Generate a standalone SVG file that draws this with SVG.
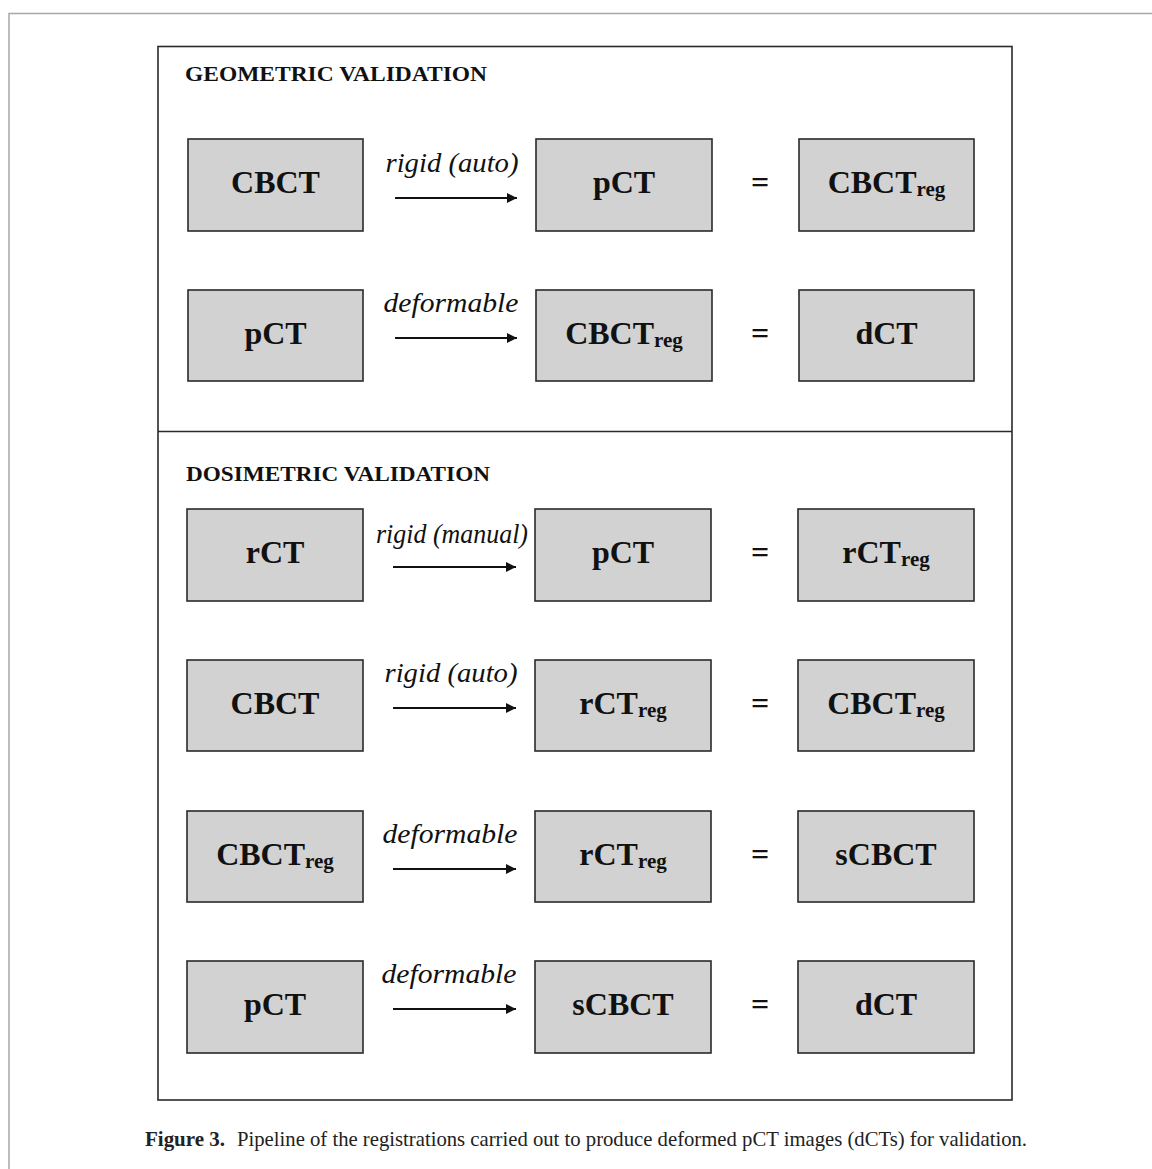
<svg xmlns="http://www.w3.org/2000/svg" width="1152" height="1169" viewBox="0 0 1152 1169">
<defs>
<style>
.box{fill:#d2d2d2;stroke:#2a2a2a;stroke-width:1.6}
.bt{font-family:"Liberation Serif","Times New Roman",serif;font-weight:bold;font-size:32px;fill:#111;text-anchor:middle}
.sub{font-size:21px}
.lbl{font-family:"Liberation Serif","Times New Roman",serif;font-style:italic;font-size:28px;fill:#111;text-anchor:middle}
.hdr{font-family:"Liberation Serif","Times New Roman",serif;font-weight:bold;font-size:22px;fill:#111}
.eq{font-family:"Liberation Serif","Times New Roman",serif;font-weight:bold;font-size:32px;fill:#111;text-anchor:middle}
.arr{stroke:#111;stroke-width:2;fill:none;marker-end:url(#ah)}
.cap{font-family:"Liberation Serif","Times New Roman",serif;font-size:21px;fill:#222}
</style>
<marker id="ah" viewBox="0 0 10 10" refX="10" refY="5" markerWidth="5" markerHeight="5" orient="auto" markerUnits="strokeWidth">
<path d="M0,0 L10,5 L0,10 z" fill="#111"/>
</marker>
</defs>
<rect width="1152" height="1169" fill="#fff"/>
<polyline points="9,1169 9,13.5 1152,13.5" fill="none" stroke="#a8a8a8" stroke-width="1.5"/>
<g id="frame">
<rect x="158" y="46.5" width="854" height="1053.5" fill="none" stroke="#2a2a2a" stroke-width="1.6"/>
<line x1="158" y1="431.5" x2="1012" y2="431.5" stroke="#2a2a2a" stroke-width="1.6"/>
</g>
<text class="hdr" x="185" y="81" textLength="302" lengthAdjust="spacingAndGlyphs">GEOMETRIC VALIDATION</text>
<text class="hdr" x="186" y="481" textLength="304" lengthAdjust="spacingAndGlyphs">DOSIMETRIC VALIDATION</text>

<g id="n1"><rect class="box" x="188" y="139" width="175" height="92"/><text class="bt" x="275.5" y="193">CBCT</text></g>
<g id="n2"><rect class="box" x="536" y="139" width="176" height="92"/><text class="bt" x="624" y="193">pCT</text></g>
<g id="n3"><rect class="box" x="799" y="139" width="175" height="92"/><text class="bt" x="886.5" y="193">CBCT<tspan class="sub" dy="3">reg</tspan></text></g>

<g id="n4"><rect class="box" x="188" y="290" width="175" height="91"/><text class="bt" x="275.5" y="344">pCT</text></g>
<g id="n5"><rect class="box" x="536" y="290" width="176" height="91"/><text class="bt" x="624" y="344">CBCT<tspan class="sub" dy="3">reg</tspan></text></g>
<g id="n6"><rect class="box" x="799" y="290" width="175" height="91"/><text class="bt" x="886.5" y="344">dCT</text></g>

<g id="n7"><rect class="box" x="187" y="509" width="176" height="92"/><text class="bt" x="275" y="563">rCT</text></g>
<g id="n8"><rect class="box" x="535" y="509" width="176" height="92"/><text class="bt" x="623" y="563">pCT</text></g>
<g id="n9"><rect class="box" x="798" y="509" width="176" height="92"/><text class="bt" x="886" y="563">rCT<tspan class="sub" dy="3">reg</tspan></text></g>

<g id="n10"><rect class="box" x="187" y="660" width="176" height="91"/><text class="bt" x="275" y="714">CBCT</text></g>
<g id="n11"><rect class="box" x="535" y="660" width="176" height="91"/><text class="bt" x="623" y="714">rCT<tspan class="sub" dy="3">reg</tspan></text></g>
<g id="n12"><rect class="box" x="798" y="660" width="176" height="91"/><text class="bt" x="886" y="714">CBCT<tspan class="sub" dy="3">reg</tspan></text></g>

<g id="n13"><rect class="box" x="187" y="811" width="176" height="91"/><text class="bt" x="275" y="865">CBCT<tspan class="sub" dy="3">reg</tspan></text></g>
<g id="n14"><rect class="box" x="535" y="811" width="176" height="91"/><text class="bt" x="623" y="865">rCT<tspan class="sub" dy="3">reg</tspan></text></g>
<g id="n15"><rect class="box" x="798" y="811" width="176" height="91"/><text class="bt" x="886" y="865">sCBCT</text></g>

<g id="n16"><rect class="box" x="187" y="961" width="176" height="92"/><text class="bt" x="275" y="1015">pCT</text></g>
<g id="n17"><rect class="box" x="535" y="961" width="176" height="92"/><text class="bt" x="623" y="1015">sCBCT</text></g>
<g id="n18"><rect class="box" x="798" y="961" width="176" height="92"/><text class="bt" x="886" y="1015">dCT</text></g>

<g id="connectors">
<line class="arr" x1="395" y1="198" x2="517" y2="198"/>
<line class="arr" x1="395" y1="338" x2="517" y2="338"/>
<line class="arr" x1="393" y1="567" x2="516" y2="567"/>
<line class="arr" x1="393" y1="708" x2="516" y2="708"/>
<line class="arr" x1="393" y1="869" x2="516" y2="869"/>
<line class="arr" x1="393" y1="1009" x2="516" y2="1009"/>
</g>
<g id="labels">
<text class="lbl" x="452" y="172" textLength="133" lengthAdjust="spacingAndGlyphs">rigid (auto)</text>
<text class="lbl" x="451" y="312" textLength="135" lengthAdjust="spacingAndGlyphs">deformable</text>
<text class="lbl" x="452" y="543" textLength="152" lengthAdjust="spacingAndGlyphs">rigid (manual)</text>
<text class="lbl" x="451" y="682" textLength="133" lengthAdjust="spacingAndGlyphs">rigid (auto)</text>
<text class="lbl" x="450" y="843" textLength="135" lengthAdjust="spacingAndGlyphs">deformable</text>
<text class="lbl" x="449" y="983" textLength="135" lengthAdjust="spacingAndGlyphs">deformable</text>
</g>
<g id="equals">
<text class="eq" x="760" y="193">=</text>
<text class="eq" x="760" y="344">=</text>
<text class="eq" x="760" y="563">=</text>
<text class="eq" x="760" y="714">=</text>
<text class="eq" x="760" y="865">=</text>
<text class="eq" x="760" y="1015">=</text>
</g>
<g id="caption">
<text class="cap" x="145" y="1146" font-weight="bold" textLength="80" lengthAdjust="spacingAndGlyphs">Figure 3.</text>
<text class="cap" x="237" y="1146" textLength="790" lengthAdjust="spacingAndGlyphs">Pipeline of the registrations carried out to produce deformed pCT images (dCTs) for validation.</text>
</g>
</svg>
